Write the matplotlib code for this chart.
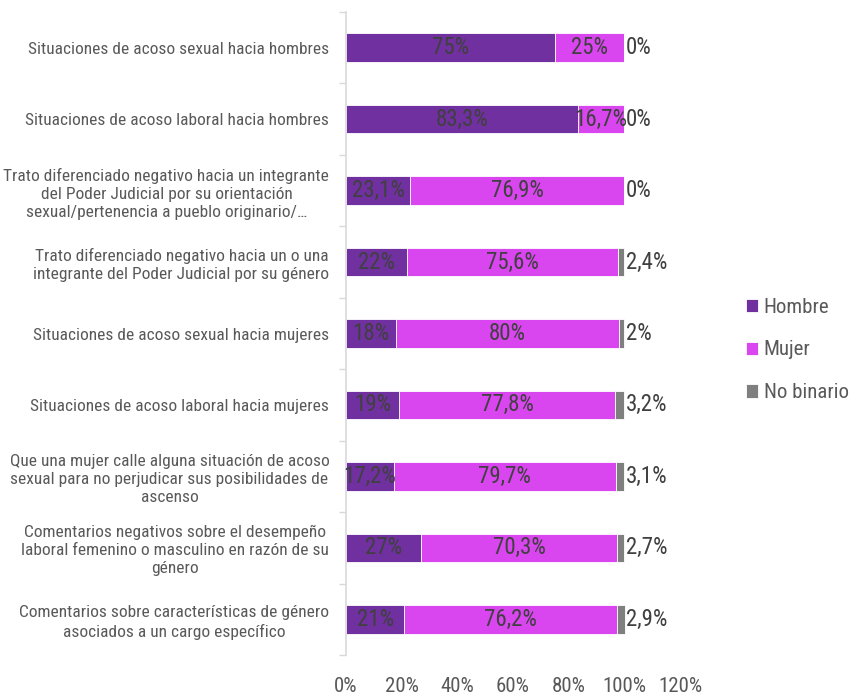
import matplotlib
matplotlib.use("Agg")
import matplotlib.pyplot as plt
from matplotlib import font_manager
import numpy as np

categories = [
    "Situaciones de acoso sexual hacia hombres",
    "Situaciones de acoso laboral hacia hombres",
    "Trato diferenciado negativo hacia un integrante\ndel Poder Judicial por su orientación\nsexual/pertenencia a pueblo originario/…",
    "Trato diferenciado negativo hacia un o una\nintegrante del Poder Judicial por su género",
    "Situaciones de acoso sexual hacia mujeres",
    "Situaciones de acoso laboral hacia mujeres",
    "Que una mujer calle alguna situación de acoso\nsexual para no perjudicar sus posibilidades de\nascenso",
    "Comentarios negativos sobre el desempeño\nlaboral femenino o masculino en razón de su\ngénero",
    "Comentarios sobre características de género\nasociados a un cargo específico",
]
hombre = [75, 83.3, 23.1, 22, 18, 19, 17.2, 27, 21]
mujer = [25, 16.7, 76.9, 75.6, 80, 77.8, 79.7, 70.3, 76.2]
no_binario = [0, 0, 0, 2.4, 2, 3.2, 3.1, 2.7, 2.9]
series_names = ["Hombre", "Mujer", "No binario"]
colors = ["#7030A0", "#D946EF", "#7F7F7F"]
xticks = [0, 20, 40, 60, 80, 100, 120]

names = {f.name for f in font_manager.fontManager.ttflist}
fam = [f for f in ["Roboto Condensed", "PT Sans Narrow", "Archivo Narrow", "Liberation Sans"] if f in names][:1]
plt.rcParams["font.family"] = fam + ["DejaVu Sans"]

def fmt(v):
    s = f"{v:.1f}".rstrip("0").rstrip(".")
    return s.replace(".", ",") + "%"

fig = plt.figure(figsize=(8.54, 6.95), dpi=100)
ax = fig.add_axes([346/854, 1-655/695, (680-346)/854, (655-12)/695])

y = np.arange(len(categories))
h = np.array(hombre); m = np.array(mujer); n = np.array(no_binario)
bh = ax.barh(y, h, height=0.4, color=colors[0], edgecolor="white", linewidth=0.6, label=series_names[0])
bm = ax.barh(y, m, left=h, height=0.4, color=colors[1], edgecolor="white", linewidth=0.6, label=series_names[1])
bn = ax.barh(y, n, left=h+m, height=0.4, color=colors[2], edgecolor="white", linewidth=0.6, label=series_names[2])

lab_kw = dict(fontsize=16.5, color="#404040")
for i in range(len(categories)):
    ax.text(h[i]/2, y[i], fmt(h[i]), ha="center", va="center", **lab_kw)
    ax.text(h[i] + m[i]/2, y[i], fmt(m[i]), ha="center", va="center", **lab_kw)
    ax.text(h[i] + m[i] + n[i] + 0.5, y[i], fmt(n[i]), ha="left", va="center", **lab_kw)

ax.set_xlim(0, 120)
ax.set_ylim(len(categories) - 0.5, -0.5)
ax.set_xticks(xticks)
ax.set_xticklabels([f"{t}%" for t in xticks], fontsize=15, color="#595959")
ax.tick_params(axis="x", length=0, pad=16)
ax.set_yticks(y)
ax.set_yticklabels(categories, fontsize=12.5, color="#595959", multialignment="center",
                   linespacing=1.25)
ax.tick_params(axis="y", length=0, pad=12)
ax.set_yticks(np.arange(len(categories)+1) - 0.5, minor=True)
ax.tick_params(axis="y", which="minor", length=5, color="#D9D9D9", width=1)
for s in ["top", "right", "bottom"]:
    ax.spines[s].set_visible(False)
ax.spines["left"].set_color("#D9D9D9")
ax.spines["left"].set_linewidth(1.2)

leg = fig.legend(handles=[bh, bm, bn], labels=series_names, loc="center left",
                 bbox_to_anchor=(746/854, 1-350/695), frameon=False, fontsize=15,
                 handlelength=0.6, handleheight=0.6, handletextpad=0.25, labelspacing=1.15,
                 borderpad=0, borderaxespad=0)
for t in leg.get_texts():
    t.set_color("#595959")

fig.savefig("out.png", dpi=100)
